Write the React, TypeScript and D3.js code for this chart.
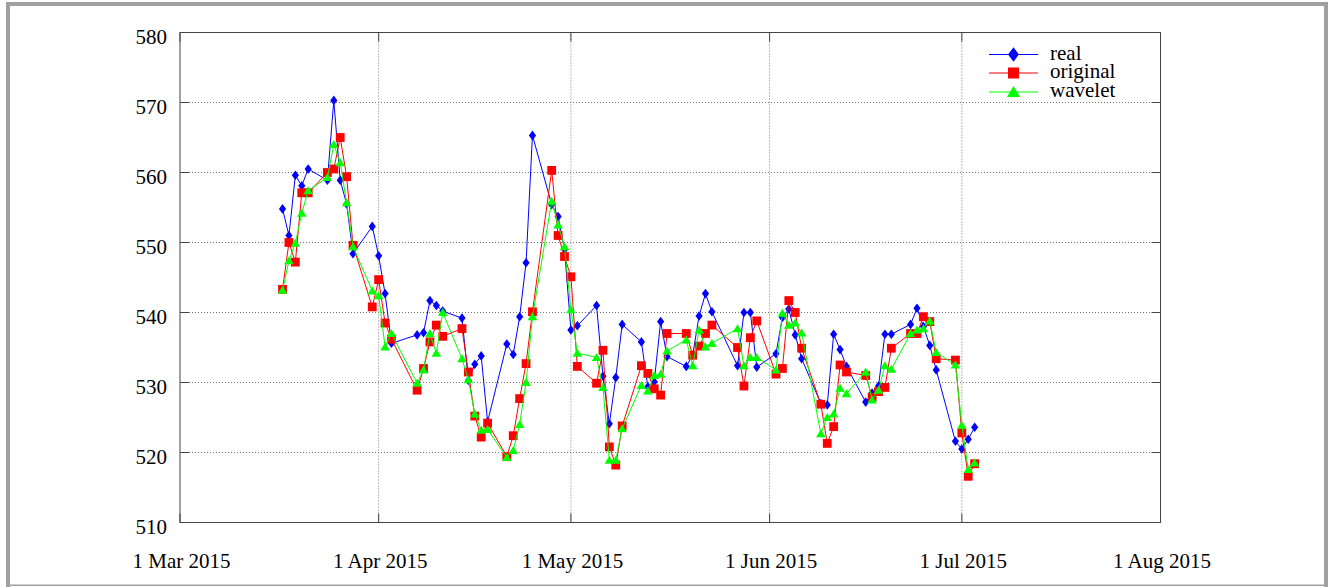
import React from "react";
import * as d3 from "d3";

const dates: string[] = [
  "2015-03-17","2015-03-18","2015-03-19","2015-03-20","2015-03-21",
  "2015-03-24","2015-03-25","2015-03-26","2015-03-27","2015-03-28",
  "2015-03-31","2015-04-01","2015-04-02","2015-04-03",
  "2015-04-07","2015-04-08","2015-04-09","2015-04-10","2015-04-11",
  "2015-04-14","2015-04-15","2015-04-16","2015-04-17","2015-04-18",
  "2015-04-21","2015-04-22","2015-04-23","2015-04-24","2015-04-25",
  "2015-04-28","2015-04-29","2015-04-30","2015-05-01","2015-05-02",
  "2015-05-05","2015-05-06","2015-05-07","2015-05-08","2015-05-09",
  "2015-05-12","2015-05-13","2015-05-14","2015-05-15","2015-05-16",
  "2015-05-19","2015-05-20","2015-05-21","2015-05-22","2015-05-23",
  "2015-05-27","2015-05-28","2015-05-29","2015-05-30",
  "2015-06-02","2015-06-03","2015-06-04","2015-06-05","2015-06-06",
  "2015-06-09","2015-06-10","2015-06-11","2015-06-12","2015-06-13",
  "2015-06-16","2015-06-17","2015-06-18","2015-06-19","2015-06-20",
  "2015-06-23","2015-06-24","2015-06-25","2015-06-26","2015-06-27",
  "2015-06-30","2015-07-01","2015-07-02","2015-07-03",
];

const realValues: number[] = [
  554.8, 551.0, 559.6, 558.1, 560.5,
  558.9, 570.3, 558.9, 555.5, 548.4,
  552.3, 548.1, 542.7, 535.6,
  536.8, 537.1, 541.7, 541.0, 540.2,
  539.2, 530.3, 532.6, 533.8, 524.4,
  535.5, 534.0, 539.4, 547.1, 565.3,
  555.4, 553.7, 549.0, 537.5, 538.1,
  541.0, 530.9, 524.1, 530.7, 538.3,
  535.8, 529.4, 530.1, 538.7, 533.7,
  532.3, 533.9, 539.5, 542.7, 540.1,
  532.4, 540.0, 540.0, 532.2,
  534.1, 539.3, 540.5, 536.8, 533.4,
  527.0, 526.8, 536.9, 534.7, 532.3,
  527.2, 528.5, 529.5, 536.9, 536.9,
  538.3, 540.6, 538.0, 535.3, 531.8,
  521.6, 520.5, 521.9, 523.6,
];

const originalValues: number[] = [
  543.3, 550.0, 547.2, 557.1, 557.1,
  560.0, 560.5, 565.0, 559.4, 549.6,
  540.8, 544.7, 538.5, 536.2,
  528.9, 532.0, 535.8, 538.2, 536.6,
  537.7, 531.5, 525.2, 522.2, 524.2,
  519.4, 522.4, 527.7, 532.7, 540.1,
  560.3, 551.0, 548.0, 545.1, 532.3,
  529.9, 534.6, 520.8, 518.2, 523.8,
  532.4, 531.3, 529.1, 528.2, 537.0,
  537.0, 533.9, 535.2, 537.0, 538.2,
  535.0, 529.5, 536.4, 538.8,
  531.2, 532.0, 541.7, 540.0, 534.9,
  526.9, 521.3, 523.7, 532.5, 531.5,
  531.0, 527.9, 528.7, 529.3, 534.9,
  537.0, 537.0, 539.4, 538.7, 533.4,
  533.2, 522.8, 516.6, 518.4,
];

const waveletValues: number[] = [
  543.2, 547.4, 549.9, 554.2, 557.4,
  559.3, 564.0, 561.4, 555.7, 549.4,
  543.1, 542.4, 535.1, 537.0,
  529.9, 531.8, 537.0, 534.2, 540.0,
  533.4, 530.4, 525.5, 523.2, 523.3,
  519.3, 520.3, 524.0, 530.0, 539.4,
  555.9, 552.5, 549.4, 540.4, 534.2,
  533.6, 529.3, 518.9, 518.9, 523.4,
  529.6, 528.8, 531.0, 531.2, 534.5,
  536.1, 532.4, 537.5, 535.1, 535.6,
  537.7, 532.4, 533.6, 533.6,
  531.8, 539.9, 538.2, 538.5, 537.1,
  522.7, 525.0, 525.5, 529.2, 528.4,
  531.5, 527.5, 528.9, 532.4, 531.9,
  537.0, 537.5, 537.7, 538.8, 534.3,
  532.5, 523.9, 517.6, 518.5,
];

const xTickDates: string[] = ["2015-03-01", "2015-04-01", "2015-05-01", "2015-06-01", "2015-07-01", "2015-08-01"];
const xTickLabels: string[] = ["1 Mar 2015", "1 Apr 2015", "1 May 2015", "1 Jun 2015", "1 Jul 2015", "1 Aug 2015"];
const yTicks: number[] = [510, 520, 530, 540, 550, 560, 570, 580];

const seriesNames: string[] = ["real", "original", "wavelet"];
const seriesColors: string[] = ["#0000ff", "#ff0000", "#00ff00"];
const seriesShapes: string[] = ["diamond", "square", "triangle"];

const W = 1331;
const H = 587;
const L = 180, R = 1160.5, T = 32.5, B = 522.5;
const FONT = "'Liberation Serif', 'Times New Roman', serif";

const parse = d3.timeParse("%Y-%m-%d");

function marker(shape: string, cx: number, cy: number, size: number, color: string, key: string) {
  if (shape === "diamond") {
    const hw = size * 0.45, hh = size * 0.6;
    return <path key={key} d={`M${cx},${cy - hh}L${cx + hw},${cy}L${cx},${cy + hh}L${cx - hw},${cy}Z`} fill={color} />;
  }
  if (shape === "square") {
    const h = size * 0.55;
    return <rect key={key} x={cx - h} y={cy - h} width={2 * h} height={2 * h} fill={color} />;
  }
  const hw = size * 0.6, hh = size * 0.5;
  return <path key={key} d={`M${cx},${cy - hh * 1.1}L${cx + hw},${cy + hh * 0.9}L${cx - hw},${cy + hh * 0.9}Z`} fill={color} />;
}

export default function App() {
  const x = d3.scaleTime().domain([parse("2015-03-01")!, parse("2015-08-01")!]).range([L, R]);
  const y = d3.scaleLinear().domain([510, 580]).range([B, T]);
  const parsed = dates.map((d) => parse(d)!);
  const allSeries = [realValues, originalValues, waveletValues];
  const line = d3.line<number>().x((_, i) => x(parsed[i])).y((v) => y(v));

  const legendX0 = 989, legendX1 = 1038, legendTextX = 1050;
  const legendY = [54.5, 73, 92];

  return (
    <svg width={W} height={H} style={{ position: "absolute", left: 0, top: 0, background: "#fff" }}>
      <rect x={0} y={0} width={W} height={H} fill="#fff" />
      {/* outer frame */}
      <rect x={6} y={2} width={1322} height={4} fill="#a0a0a0" />
      <rect x={6} y={2} width={4} height={H} fill="#a0a0a0" />
      <rect x={1324} y={2} width={4} height={H} fill="#a0a0a0" />
      <rect x={6} y={584.5} width={1322} height={1.5} fill="#a0a0a0" />

      {/* grid */}
      {yTicks.slice(1, -1).map((t) => (
        <line key={"gy" + t} x1={L} x2={R} y1={y(t)} y2={y(t)} stroke="#777" strokeWidth={1} strokeDasharray="1 2" />
      ))}
      {xTickDates.slice(1, -1).map((d) => (
        <line key={"gx" + d} x1={x(parse(d)!)} x2={x(parse(d)!)} y1={T} y2={B} stroke="#777" strokeWidth={1} strokeDasharray="1 2" />
      ))}

      {/* ticks */}
      {yTicks.map((t) => (
        <g key={"ty" + t}>
          <line x1={L} x2={L + 9} y1={y(t)} y2={y(t)} stroke="#444" />
          <line x1={R - 9} x2={R} y1={y(t)} y2={y(t)} stroke="#444" />
          <text x={167} y={y(t) + 11.5} textAnchor="end" fontFamily={FONT} fontSize={21} fill="#000">{t}</text>
        </g>
      ))}
      {xTickDates.map((d, i) => {
        const px = x(parse(d)!);
        return (
          <g key={"tx" + d}>
            <line x1={px} x2={px} y1={B} y2={B - 9} stroke="#444" />
            <line x1={px} x2={px} y1={T} y2={T + 9} stroke="#444" />
            <text x={px + 1.5} y={567.5} textAnchor="middle" fontFamily={FONT} fontSize={21} fill="#000">{xTickLabels[i]}</text>
          </g>
        );
      })}

      {/* axis box */}
      <rect x={L} y={T} width={R - L} height={B - T} fill="none" stroke="#444" strokeWidth={1} />

      {/* series */}
      {allSeries.map((vals, s) => (
        <g key={"s" + s}>
          <path d={line(vals) || ""} fill="none" stroke={seriesColors[s]} strokeWidth={1} />
          {vals.map((v, i) => marker(seriesShapes[s], x(parsed[i]), y(v), 8, seriesColors[s], `m${s}-${i}`))}
        </g>
      ))}

      {/* legend */}
      {seriesNames.map((name, s) => (
        <g key={"lg" + name}>
          <line x1={legendX0} x2={legendX1} y1={legendY[s]} y2={legendY[s]} stroke={seriesColors[s]} strokeWidth={1.2} />
          {marker(seriesShapes[s], (legendX0 + legendX1) / 2, legendY[s], s === 0 ? 12 : s === 1 ? 10 : 11, seriesColors[s], "lm" + s)}
          <text x={legendTextX} y={legendY[s] + 5} fontFamily={FONT} fontSize={21} fill="#000">{name}</text>
        </g>
      ))}
    </svg>
  );
}
